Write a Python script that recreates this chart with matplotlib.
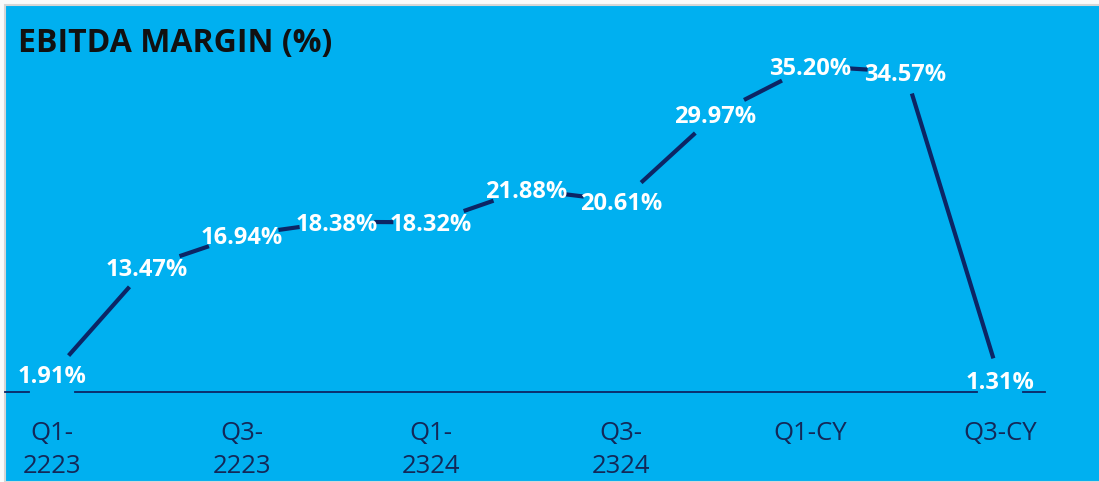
import matplotlib
matplotlib.use("Agg")
import matplotlib.pyplot as plt
from matplotlib.patches import Rectangle
import numpy as np

# ---- data ----
categories = ["Q1-2223", "Q2-2223", "Q3-2223", "Q4-2223", "Q1-2324", "Q2-2324",
              "Q3-2324", "Q4-2324", "Q1-CY", "Q2-CY", "Q3-CY"]
ebitda_margin = [1.91, 13.47, 16.94, 18.38, 18.32, 21.88, 20.61, 29.97, 35.20, 34.57, 1.31]
shown_ticks = ["Q1-2223", "Q3-2223", "Q1-2324", "Q3-2324", "Q1-CY", "Q3-CY"]
title = "EBITDA MARGIN (%)"

# ---- style ----
BG = "#00B0F0"
LINE = "#0C2565"
TICK = "#132858"
W, H = 1099, 482

plt.rcParams['font.family'] = ['Open Sans', 'DejaVu Sans']

fig = plt.figure(figsize=(W / 100, H / 100), dpi=100)
fig.patch.set_facecolor("#FAFAFA")
fig.patches.append(Rectangle((5 / W, 0), 1, (H - 5) / H, transform=fig.transFigure,
                             facecolor=BG, edgecolor="#D6D6D6", linewidth=1.5, zorder=-5))

ax = fig.add_axes([0, 90 / H, 1, 392 / H])
ax.set_zorder(2)
ax.set_facecolor("none")
for s in ax.spines.values():
    s.set_visible(False)

x = np.arange(len(categories))
step = 94.8
ax.set_xlim(-52 / step, (W - 52) / step)
ax.set_ylim(0, 392 / 9.26)
ax.set_yticks([])

tick_idx = [categories.index(c) for c in shown_ticks]
tick_lbls = [c.replace("-", "-\n") if len(c) > 5 else c for c in shown_ticks]
ax.set_xticks(tick_idx)
ax.set_xticklabels(tick_lbls, fontsize=18.5, color=TICK, linespacing=1.42)
ax.tick_params(axis="x", length=0, pad=21)

fig.text(18 / W, 1 - 52 / H, title, fontsize=23, fontweight="bold", color="#111111",
         ha="left", va="baseline", zorder=3)

# labels
texts = []
for xi, v in zip(x, ebitda_margin):
    t = ax.text(xi, v, f"{v:.2f}%", fontsize=17, fontweight="bold", color="white",
                ha="center", va="center_baseline", zorder=5, clip_on=False)
    texts.append(t)

fig.canvas.draw()
renderer = fig.canvas.get_renderer()
pts = ax.transData.transform(np.column_stack([x, ebitda_margin]))
hws = [t.get_window_extent(renderer).width / 2 for t in texts]
HH = 22.0


def exit_dist(d, hw, hh):
    u = d / np.hypot(*d)
    a = 0.92 * hw
    return 1.0 / np.sqrt((u[0] / a) ** 2 + (u[1] / hh) ** 2) / np.hypot(*d)


inv = ax.transData.inverted()
for i in range(len(x) - 1):
    A, B = pts[i], pts[i + 1]
    d = B - A
    t0 = exit_dist(d, hws[i], HH)
    t1 = 1 - exit_dist(d, hws[i + 1], HH)
    if t1 <= t0:
        continue
    P0 = inv.transform(A + t0 * d)
    P1 = inv.transform(A + t1 * d)
    ax.plot([P0[0], P1[0]], [P0[1], P1[1]], color=LINE, linewidth=3,
            solid_capstyle="butt", zorder=3, clip_on=False)

# baseline axis line with gaps under labels that sit on it
y0 = ax.transData.transform((0, 0))[1]
x_start, x_end = 5, 1045
gaps = []
for (px, py), hw in zip(pts, hws):
    if abs(py - y0) < HH:
        gaps.append((px - 0.68 * hw, px + 0.68 * hw))
gaps.sort()
segs = []
cur = x_start
for g0, g1 in gaps:
    if g0 > cur:
        segs.append((cur, g0))
    cur = max(cur, g1)
if cur < x_end:
    segs.append((cur, x_end))
for s0, s1 in segs:
    a = inv.transform((s0, y0))
    b = inv.transform((s1, y0))
    ax.plot([a[0], b[0]], [0, 0], color=LINE, linewidth=1.3, zorder=2, clip_on=False)

fig.savefig("out.png", dpi=100, facecolor=fig.get_facecolor())
